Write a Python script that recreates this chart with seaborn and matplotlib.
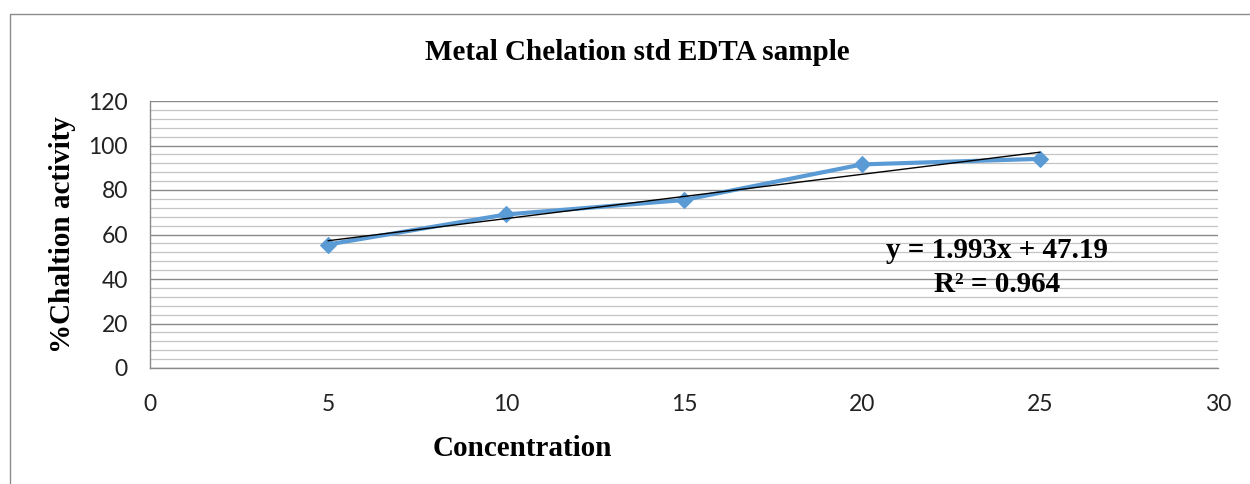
import numpy as np
import pandas as pd
import matplotlib
matplotlib.use("Agg")
import matplotlib.pyplot as plt
import seaborn as sns
from matplotlib.patches import Rectangle
from matplotlib.ticker import MultipleLocator

concentration = [5, 10, 15, 20, 25]
chelation = [55.5, 69.0, 75.5, 91.5, 94.0]
x_ticks = [0, 5, 10, 15, 20, 25, 30]
y_ticks = [0, 20, 40, 60, 80, 100, 120]

title = "Metal Chelation std EDTA sample"
xlabel = "Concentration"
ylabel = "%Chaltion activity"
equation = "y = 1.993x + 47.19"
r2_text = "R² = 0.964"

df = pd.DataFrame({"Concentration": concentration, "Chelation": chelation})

sns.set_theme(style="white")
serif = ["Liberation Serif", "DejaVu Serif"]
tickfont = "Lato"

fig = plt.figure(figsize=(12.5, 4.84), dpi=100)
ax = fig.add_axes([150/1250, 1-368/484, (1218-150)/1250, (368-101)/484])

# outer chart border
fig.patches.append(Rectangle((10/1250, -0.1), 1.2, 1-14/484+0.1, transform=fig.transFigure,
                             fill=False, edgecolor="#8c8c8c", linewidth=1.0, zorder=0))

ax.set_xlim(0, 30)
ax.set_ylim(0, 120)
ax.set_xticks(x_ticks)
ax.set_yticks(y_ticks)
ax.yaxis.set_minor_locator(MultipleLocator(4))
ax.grid(False)
ax.grid(which="major", axis="y", color="#8a8a8a", linewidth=1.0, zorder=0)
ax.grid(which="minor", axis="y", color="#c4c4c4", linewidth=0.9, zorder=0)
ax.set_axisbelow(True)

for s in ["top", "right"]:
    ax.spines[s].set_visible(False)
for s in ["left", "bottom"]:
    ax.spines[s].set_color("#8a8a8a")
    ax.spines[s].set_linewidth(1.0)

ax.tick_params(axis="both", which="major", direction="out", length=6, width=1.0,
               color="#8a8a8a", labelsize=16.5, labelcolor="#222222", pad=10)
ax.tick_params(axis="both", which="minor", length=0)
ax.tick_params(axis="x", pad=12.5)
for lab in ax.get_xticklabels() + ax.get_yticklabels():
    lab.set_fontfamily(tickfont)

sns.lineplot(data=df, x="Concentration", y="Chelation", ax=ax, color="#5b9bd5",
             linewidth=3, marker="D", markersize=8.5, markeredgecolor="#5b9bd5", zorder=3)
sns.regplot(data=df, x="Concentration", y="Chelation", ax=ax, scatter=False, ci=None,
            line_kws={"color": "black", "linewidth": 1.0, "zorder": 4})

ax.set_xlabel("")
ax.set_ylabel("")

fs = 21
fig.text(637/1250, 1-53/484, title, ha="center", va="center", fontsize=fs,
         fontweight="bold", family=serif, color="black")
fig.text(522/1250, 1-449/484, xlabel, ha="center", va="center", fontsize=fs,
         fontweight="bold", family=serif, color="black")
fig.text(63/1250, 1-235/484, ylabel, ha="center", va="center", rotation=90, fontsize=fs,
         fontweight="bold", family=serif, color="black")
fig.text(997/1250, 1-250/484, equation, ha="center", va="center", fontsize=fs,
         fontweight="bold", family=serif, color="black")
fig.text(997/1250, 1-284/484, r2_text, ha="center", va="center", fontsize=fs,
         fontweight="bold", family=serif, color="black")

fig.savefig("out.png", dpi=100, facecolor="white")
